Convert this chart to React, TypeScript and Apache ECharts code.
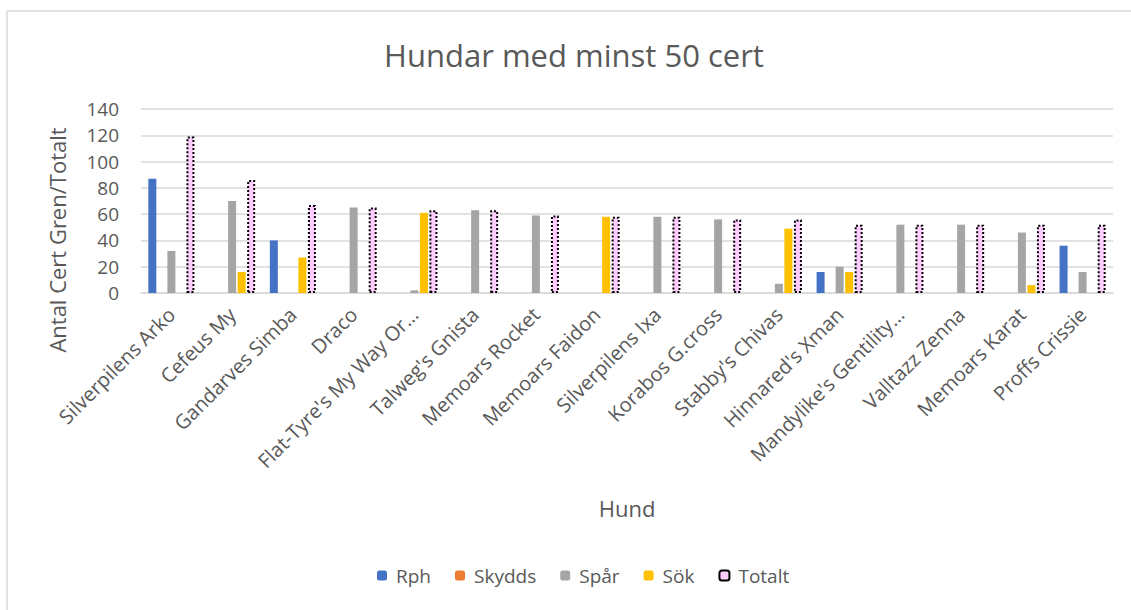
import React, { useEffect, useRef } from "react";
import * as echarts from "echarts";

const categories = [
  "Silverpilens Arko",
  "Cefeus My",
  "Gandarves Simba",
  "Draco",
  "Flat-Tyre's My Way Or…",
  "Talweg's Gnista",
  "Memoars Rocket",
  "Memoars Faidon",
  "Silverpilens Ixa",
  "Korabos G.cross",
  "Stabby's Chivas",
  "Hinnared's Xman",
  "Mandylike's Gentility…",
  "Valltazz Zenna",
  "Memoars Karat",
  "Proffs Crissie",
];

const rph = [87, 0, 40, 0, 0, 0, 0, 0, 0, 0, 0, 16, 0, 0, 0, 36];
const skydds = [0, 0, 0, 0, 0, 0, 0, 0, 0, 0, 0, 0, 0, 0, 0, 0];
const spar = [32, 70, 0, 65, 2, 63, 59, 0, 58, 56, 7, 20, 52, 52, 46, 16];
const sok = [0, 16, 27, 0, 61, 0, 0, 58, 0, 0, 49, 16, 0, 0, 6, 0];
const totalt = [119, 86, 67, 65, 63, 63, 59, 58, 58, 56, 56, 52, 52, 52, 52, 52];

const yTicks = { min: 0, max: 140, interval: 20 };

const FONT = "'Open Sans', sans-serif";
const TXT = "#595959";

export default function App() {
  const ref = useRef<HTMLDivElement>(null);
  useEffect(() => {
    if (!ref.current) return;
    const chart = echarts.init(ref.current, undefined, { renderer: "svg" });
    const toNull = (a: number[]) => a.map((v) => (v === 0 ? null : v));
    const bar = (name: string, data: number[], color: string) => ({
      name,
      type: "bar",
      data: toNull(data),
      barWidth: 8,
      barGap: "19%",
      itemStyle: { color },
    });
    chart.setOption({
      animation: false,
      textStyle: { fontFamily: FONT },
      graphic: [
        { type: "line", shape: { x1: 7, y1: 11, x2: 7, y2: 610 }, style: { stroke: "#d9d9d9", lineWidth: 1.5 } },
        { type: "line", shape: { x1: 7, y1: 11, x2: 1131, y2: 11 }, style: { stroke: "#d9d9d9", lineWidth: 1.5 } },
        {
          type: "text",
          x: 574,
          y: 55,
          style: { text: "Hundar med minst 50 cert", fill: TXT, font: `31px ${FONT}`, textAlign: "center", textVerticalAlign: "middle" },
        },
        {
          type: "text",
          x: 57,
          y: 240,
          rotation: Math.PI / 2,
          style: { text: "Antal Cert Gren/Totalt", fill: TXT, font: `22px ${FONT}`, textAlign: "center", textVerticalAlign: "middle" },
        },
        {
          type: "text",
          x: 627,
          y: 508,
          style: { text: "Hund", fill: TXT, font: `22px ${FONT}`, textAlign: "center", textVerticalAlign: "middle" },
        },
      ],
      grid: { left: 141, right: 18, top: 109, bottom: 317, containLabel: false },
      legend: {
        bottom: 20,
        left: 372,
        itemWidth: 10,
        itemHeight: 10,
        itemGap: 24,
        textStyle: { color: TXT, fontSize: 19, fontFamily: FONT, padding: [0, 0, 0, 4] },
        data: ["Rph", "Skydds", "Spår", "Sök", "Totalt"],
      },
      xAxis: {
        type: "category",
        data: categories,
        axisLine: { lineStyle: { color: "#d9d9d9", width: 1.5 } },
        axisTick: { show: false },
        axisLabel: { rotate: 45, color: TXT, fontSize: 20, margin: 18, interval: 0, fontFamily: FONT },
      },
      yAxis: {
        type: "value",
        min: yTicks.min,
        max: yTicks.max,
        interval: yTicks.interval,
        axisLine: { show: false },
        axisTick: { show: false },
        axisLabel: { color: TXT, fontSize: 19, margin: 22, fontFamily: FONT },
        splitLine: { lineStyle: { color: "#d9d9d9", width: 1.5 } },
      },
      series: [
        bar("Rph", rph, "#4472C4"),
        bar("Skydds", skydds, "#ED7D31"),
        bar("Spår", spar, "#A5A5A5"),
        bar("Sök", sok, "#FFC000"),
        {
          name: "Totalt",
          type: "bar",
          data: totalt,
          barWidth: 8,
          barGap: "19%",
          itemStyle: { color: "#FFCCFF", borderColor: "#000", borderWidth: 2, borderType: "dotted" },
        },
      ],
    });
    return () => chart.dispose();
  }, []);
  return <div ref={ref} style={{ position: "absolute", left: 0, top: 0, width: 1131, height: 610 }} />;
}
